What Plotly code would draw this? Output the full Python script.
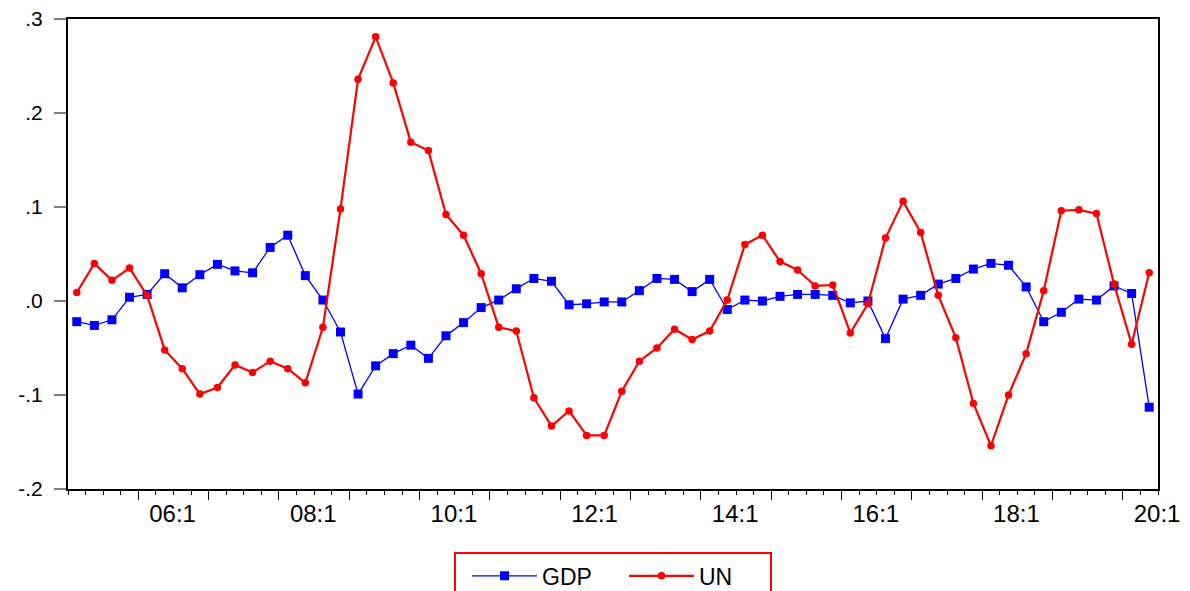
import plotly.graph_objects as go

# Quarterly observations 2005Q1 .. 2020Q2
start_year = 2005
n_obs = 62
quarters = [f"{start_year + (k // 4)}Q{k % 4 + 1}" for k in range(n_obs)]

gdp = [-0.022, -0.026, -0.020, 0.004, 0.007, 0.029, 0.014, 0.028, 0.039, 0.032,
       0.030, 0.057, 0.070, 0.027, 0.001, -0.033, -0.099, -0.069, -0.056, -0.047,
       -0.061, -0.037, -0.023, -0.007, 0.001, 0.013, 0.024, 0.021, -0.004, -0.003,
       -0.001, -0.001, 0.011, 0.024, 0.023, 0.010, 0.023, -0.009, 0.001, 0.000,
       0.005, 0.007, 0.007, 0.006, -0.002, 0.000, -0.040, 0.002, 0.006, 0.018,
       0.024, 0.034, 0.040, 0.038, 0.015, -0.022, -0.012, 0.002, 0.001, 0.016,
       0.008, -0.113]

un = [0.009, 0.040, 0.022, 0.035, 0.006, -0.052, -0.072, -0.099, -0.092, -0.068,
      -0.076, -0.064, -0.072, -0.087, -0.028, 0.098, 0.236, 0.281, 0.232, 0.169,
      0.160, 0.092, 0.070, 0.029, -0.028, -0.032, -0.103, -0.133, -0.117, -0.143,
      -0.143, -0.096, -0.064, -0.050, -0.030, -0.041, -0.032, 0.001, 0.060, 0.070,
      0.042, 0.033, 0.016, 0.017, -0.034, -0.003, 0.067, 0.106, 0.073, 0.006,
      -0.039, -0.109, -0.154, -0.100, -0.056, 0.011, 0.096, 0.097, 0.093, 0.018,
      -0.046, 0.030]

x_labels = ["06:1", "08:1", "10:1", "12:1", "14:1", "16:1", "18:1", "20:1"]
y_ticks = [-0.2, -0.1, 0.0, 0.1, 0.2, 0.3]
y_labels = ["-.2", "-.1", ".0", ".1", ".2", ".3"]

x = list(range(n_obs))
xr = [-0.5, n_obs - 0.5]

# year boundaries (major ticks) and quarter boundaries (minor ticks)
major_ticks = [k - 0.5 for k in range(4, n_obs, 4)]
minor_ticks = [k - 0.5 for k in range(0, n_obs + 1)]
label_pos = [quarters.index(f"20{lab[:2]}Q1") - 0.5 + 1.95 for lab in x_labels]

font = "Liberation Sans, Arial, sans-serif"

fig = go.Figure()
fig.add_trace(go.Scatter(
    x=x, y=gdp, name="GDP", mode="lines+markers", text=quarters,
    line=dict(color="#0000FF", width=1.3),
    marker=dict(symbol="square", size=9, color="#0000FF"),
))
fig.add_trace(go.Scatter(
    x=x, y=un, name="UN", mode="lines+markers", text=quarters,
    xaxis="x2", yaxis="y",
    line=dict(color="#FF0000", width=2.2),
    marker=dict(symbol="circle", size=7.5, color="#FF0000"),
))

# the page body has an 8px margin, so the figure is 8px smaller than the window
fig.update_layout(
    width=1182, height=583,
    margin=dict(l=60, r=32, t=10.5, b=101.5, autoexpand=False),
    paper_bgcolor="white", plot_bgcolor="white",
    font=dict(family=font, color="black"),
    showlegend=True,
    legend=dict(
        orientation="h", x=0.5, xanchor="center", y=-0.1348, yanchor="top",
        bordercolor="#FF0000", borderwidth=2, bgcolor="white",
        font=dict(size=23, family=font, color="black"),
        itemwidth=65, entrywidth=66, entrywidthmode="pixels",
        indentation=11,
    ),
    xaxis=dict(
        range=xr, showgrid=False, zeroline=False, automargin=False,
        showline=True, mirror=True, linecolor="black", linewidth=2,
        tickmode="array", tickvals=label_pos, ticktext=x_labels,
        ticks="", tickfont=dict(size=24, family=font, color="black"),
        ticklabelstandoff=2, ticklabeloverflow="allow",
    ),
    xaxis2=dict(
        range=xr, overlaying="x", anchor="y", side="bottom", automargin=False,
        showgrid=False, zeroline=False, showline=False, showticklabels=False,
        tickmode="array", tickvals=major_ticks, ticks="outside",
        ticklen=10, tickwidth=1.3, tickcolor="black",
        minor=dict(tickmode="array", tickvals=minor_ticks, ticks="outside",
                   ticklen=5, tickwidth=1.3, tickcolor="black", showgrid=False),
    ),
    yaxis=dict(
        range=[-0.2, 0.3], showgrid=False, zeroline=False, automargin=False,
        showline=True, mirror=True, linecolor="black", linewidth=2,
        tickmode="array", tickvals=y_ticks, ticktext=y_labels,
        ticks="outside", ticklen=12, tickwidth=2, tickcolor="#808080",
        tickfont=dict(size=21, family=font, color="black"),
        ticklabelstandoff=7, ticklabeloverflow="allow",
    ),
)

fig.write_html("out.html")
